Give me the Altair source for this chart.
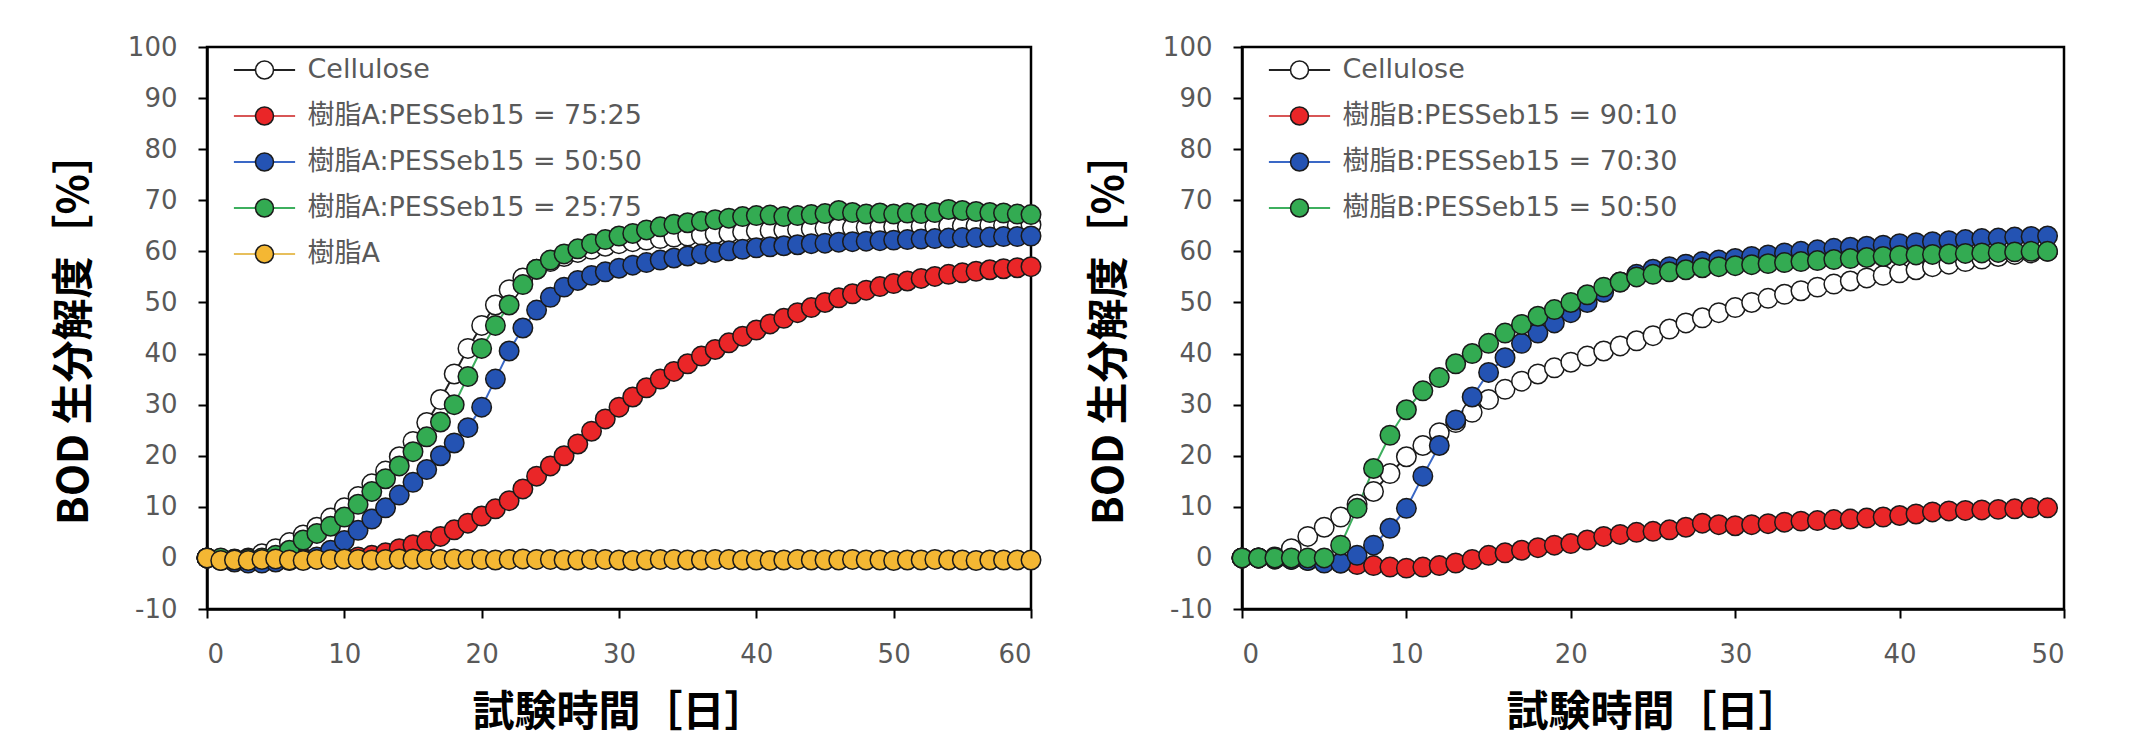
import altair as alt
import pandas as pd

# ---------------- data ----------------
days_a = list(range(0, 61))
days_b = list(range(0, 50))

names_a = ["Cellulose", "樹脂A:PESSeb15 = 75:25", "樹脂A:PESSeb15 = 50:50",
           "樹脂A:PESSeb15 = 25:75", "樹脂A"]
names_b = ["Cellulose", "樹脂B:PESSeb15 = 90:10", "樹脂B:PESSeb15 = 70:30",
           "樹脂B:PESSeb15 = 50:50"]

cell_a = [0, -0.3, -0.5, 0, 0.8, 1.8, 3, 4.5, 6, 7.8,
          9.8, 12, 14.5, 17, 19.8, 22.8, 26.5, 31, 36, 41,
          45.5, 49.5, 52.5, 54.8, 56.5, 58, 59, 59.8, 60.4, 61,
          61.5, 61.9, 62.2, 62.5, 62.8, 63, 63.2, 63.4, 63.6, 63.8,
          64, 64.1, 64.2, 64.3, 64.4, 64.5, 64.6, 64.6, 64.7, 64.7,
          64.8, 64.8, 64.9, 64.9, 65, 65, 65, 65.1, 65.1, 65.1,
          65.2]
red_a = [0, -0.2, -0.3, -0.3, -0.2, -0.2, -0.1, 0, 0, 0,
         0.1, 0.2, 0.5, 1, 1.8, 2.6, 3.3, 4.2, 5.5, 6.8,
         8.2, 9.6, 11.2, 13.5, 16, 18, 20, 22.3, 24.8, 27.2,
         29.5, 31.5, 33.3, 35, 36.5, 38, 39.5, 40.8, 42.1, 43.4,
         44.6, 45.8, 46.9, 48, 49, 50, 50.9, 51.7, 52.4, 53.1,
         53.7, 54.2, 54.7, 55.1, 55.5, 55.8, 56.1, 56.4, 56.6, 56.8,
         57]
blue_a = [0, -0.5, -0.8, -1, -1, -0.8, -0.5, -0.3, 0.2, 1.5,
          3.4, 5.4, 7.6, 9.8, 12.3, 14.8, 17.3, 20, 22.5, 25.5,
          29.5, 35, 40.5, 45, 48.5, 51, 53, 54.3, 55.3, 56,
          56.7, 57.3, 57.8, 58.3, 58.7, 59.1, 59.5, 59.8, 60.1, 60.4,
          60.7, 60.9, 61.1, 61.3, 61.5, 61.6, 61.8, 61.9, 62, 62.1,
          62.2, 62.3, 62.4, 62.5, 62.6, 62.7, 62.7, 62.8, 62.9, 62.9,
          63]
green_a = [0, 0, -0.2, -0.2, 0, 0.5, 1.5, 3.5, 4.8, 6.2,
           8, 10.5, 13, 15.5, 18, 20.8, 23.7, 26.6, 30, 35.5,
           41, 45.5, 49.5, 53.5, 56.5, 58.3, 59.5, 60.5, 61.5, 62.3,
           63, 63.5, 64.2, 64.8, 65.3, 65.6, 65.9, 66.2, 66.5, 66.8,
           67, 67.1, 66.8, 67, 67.2, 67.4, 68, 67.6, 67.3, 67.5,
           67.3, 67.5, 67.4, 67.6, 68.2, 68, 67.8, 67.6, 67.5, 67.3,
           67.2]
yellow_a = [0, -0.5, -0.4, -0.5, -0.3, -0.2, -0.4, -0.5, -0.3, -0.3,
            -0.2, -0.3, -0.4, -0.3, -0.2, -0.2, -0.3, -0.3, -0.2, -0.3,
            -0.3, -0.4, -0.3, -0.2, -0.3, -0.3, -0.4, -0.4, -0.3, -0.3,
            -0.4, -0.5, -0.4, -0.3, -0.3, -0.4, -0.4, -0.3, -0.3, -0.4,
            -0.4, -0.5, -0.4, -0.3, -0.4, -0.4, -0.4, -0.3, -0.4, -0.4,
            -0.5, -0.4, -0.4, -0.3, -0.4, -0.4, -0.5, -0.4, -0.4, -0.4,
            -0.4]

cell_b = [0, 0, 0.2, 1.8, 4.2, 6, 8, 10.5, 13, 16.5,
          19.8, 22, 24.5, 26.5, 28.5, 31, 33, 34.6, 36, 37.2,
          38.3, 39.5, 40.5, 41.5, 42.5, 43.5, 44.8, 46, 47, 48,
          49, 50, 50.8, 51.6, 52.3, 53, 53.6, 54.2, 54.8, 55.3,
          55.8, 56.4, 57, 57.5, 58, 58.5, 59, 59.4, 59.7, 60]
red_b = [0, 0, -0.2, -0.3, -0.5, -0.8, -1, -1.3, -1.5, -1.8,
         -2, -1.8, -1.5, -1, -0.3, 0.5, 1, 1.5, 2, 2.5,
         2.8, 3.5, 4.2, 4.6, 5, 5.2, 5.5, 6, 6.8, 6.5,
         6.3, 6.5, 6.7, 7, 7.2, 7.3, 7.5, 7.6, 7.8, 8,
         8.3, 8.6, 9, 9.2, 9.3, 9.4, 9.5, 9.6, 9.8, 9.8]
blue_b = [0, 0, -0.2, -0.3, -0.5, -1, -1, 0.5, 2.5, 5.8,
          9.7, 16, 22, 27, 31.5, 36.3, 39.2, 42, 44, 46,
          48, 50, 52, 54, 55.5, 56.5, 57, 57.5, 58, 58.3,
          58.6, 59, 59.3, 59.7, 60, 60.3, 60.6, 60.8, 61, 61.2,
          61.5, 61.7, 61.9, 62.1, 62.3, 62.5, 62.6, 62.8, 62.9, 63]
green_b = [0, 0, 0, 0, 0, 0, 2.5, 9.7, 17.5, 24,
           29, 32.7, 35.3, 38, 40, 42, 44, 45.7, 47.3, 48.6,
           50, 51.5, 53, 54, 55, 55.5, 56, 56.4, 56.8, 57,
           57.2, 57.4, 57.6, 57.8, 58, 58.2, 58.4, 58.6, 58.8, 59,
           59.2, 59.3, 59.4, 59.5, 59.6, 59.7, 59.8, 59.9, 60, 60]

x_ticks_a = [0, 10, 20, 30, 40, 50, 60]
x_ticks_b = [0, 10, 20, 30, 40, 50]
y_ticks = [-10, 0, 10, 20, 30, 40, 50, 60, 70, 80, 90, 100]

fill_a = ["#ffffff", "#ea2628", "#2453b3", "#33ab52", "#f4b733"]
line_a = ["#222222", "#d85656", "#3a68c6", "#3daf5e", "#e7bf5c"]
fill_b = fill_a[:4]
line_b = line_a[:4]

x_title = "試験時間［日］"
y_title = "BOD 生分解度［%］"

LABEL_FONT = "DejaVu Sans, Noto Sans CJK JP"
TITLE_FONT = "Noto Sans CJK JP"
PLOT_H = 562
Y_LABEL_EXPR = "datum.value < 0 ? '-' + abs(datum.value) : '' + datum.value"


def panel(days, names, series, fills, lines, xmax, xticks, width):
    rows = []
    for order, (name, vals) in enumerate(zip(names, series)):
        for d, v in zip(days, vals):
            rows.append({"day": d, "value": v, "series": name,
                         "label": name, "order": order})
    df = pd.DataFrame(rows)
    base = alt.Chart(df)
    x = alt.X("day:Q",
              scale=alt.Scale(domain=[0, xmax], nice=False, zero=False),
              axis=alt.Axis(values=xticks, title=x_title,
                            titleX=width / 2, titleY=103,
                            titleBaseline="middle", titleAlign="center"))
    y = alt.Y("value:Q",
              scale=alt.Scale(domain=[-10, 100], nice=False),
              axis=alt.Axis(values=y_ticks, title=y_title,
                            labelExpr=Y_LABEL_EXPR,
                            titleX=-133, titleY=PLOT_H / 2,
                            titleBaseline="middle", titleAlign="center",
                            titleAngle=-90))
    common_legend = dict(orient="none", legendX=44, legendY=9.5, title=None,
                         direction="vertical", symbolSize=324,
                         labelFont=LABEL_FONT, labelFontSize=27,
                         labelOffset=29.5, rowPadding=18, padding=0,
                         labelLimit=600, labelBaseline="middle")
    line_layer = base.mark_line(strokeWidth=2).encode(
        x=x, y=y,
        color=alt.Color("series:N", sort=names,
                        scale=alt.Scale(range=lines),
                        legend=alt.Legend(symbolType="M-3.4,0L3.4,0",
                                          symbolStrokeWidth=2,
                                          labelOpacity=0, zindex=1,
                                          **common_legend)),
    )
    point_layer = base.mark_point(shape="circle", filled=True, size=380,
                                  stroke="#1a1a1a", strokeWidth=1.5,
                                  opacity=1).encode(
        x=x, y=y,
        fill=alt.Fill("label:N",
                      scale=alt.Scale(domain=names, range=fills),
                      legend=alt.Legend(symbolType="circle",
                                        symbolStrokeColor="#1a1a1a",
                                        symbolStrokeWidth=1.5,
                                        symbolOpacity=1,
                                        labelColor="#595959", zindex=2,
                                        **common_legend)),
    )
    return alt.layer(line_layer, point_layer).properties(width=width,
                                                         height=PLOT_H)


left = panel(days_a, names_a, [cell_a, red_a, blue_a, green_a, yellow_a],
             fill_a, line_a, 60, x_ticks_a, 824)
right = panel(days_b, names_b, [cell_b, red_b, blue_b, green_b],
              fill_b, line_b, 50, x_ticks_b, 822)

chart = alt.hconcat(left, right, spacing=41).resolve_scale(
    x="independent", y="independent", color="independent", fill="independent"
).resolve_legend(color="independent", fill="independent").properties(
    padding={"left": 43, "top": 24, "right": 5, "bottom": 14}
).configure_axis(
    domainColor="black", domainWidth=2.5, tickColor="black", tickWidth=2,
    tickSize=9, labelFont="DejaVu Sans", labelFontSize=26,
    labelColor="#595959", grid=False, titleFont=TITLE_FONT,
    titleFontSize=42, titleFontWeight="bold", titleColor="black"
).configure_axisX(labelPadding=23).configure_axisY(labelPadding=21
).configure_view(stroke="black", strokeWidth=2.5)

chart.save("out.html", embed_options={"renderer": "svg", "actions": False})
